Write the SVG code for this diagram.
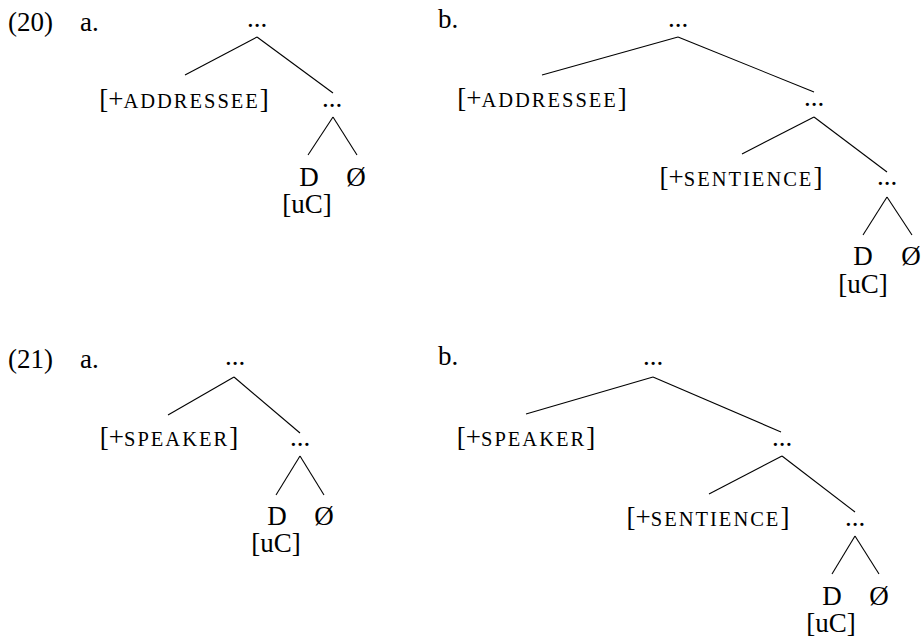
<svg xmlns="http://www.w3.org/2000/svg" width="922" height="638" viewBox="0 0 922 638">
<style>
text{font-family:"Liberation Serif","Times New Roman",serif;font-size:27px;fill:#000}
.m{text-anchor:middle}
.sc{font-size:20.5px;letter-spacing:2px}
#connectors line{stroke:#000;stroke-width:1.1}
</style>
<rect width="922" height="638" fill="#fff"/>
<g id="labels">
<text x="8" y="31">(20)</text>
<text x="80" y="31">a.</text>
<text x="438" y="28">b.</text>
<text x="8" y="368">(21)</text>
<text x="80" y="368">a.</text>
<text x="438" y="365">b.</text>
</g>
<g id="connectors">
<line x1="257" y1="37" x2="185" y2="75"/>
<line x1="257" y1="37" x2="333" y2="93"/>
<line x1="333" y1="117" x2="308" y2="155"/>
<line x1="333" y1="117" x2="357" y2="155"/>
<line x1="678" y1="37" x2="542" y2="75"/>
<line x1="678" y1="37" x2="814" y2="92"/>
<line x1="814" y1="117" x2="742" y2="154"/>
<line x1="814" y1="117" x2="887" y2="172"/>
<line x1="887" y1="197" x2="863" y2="235"/>
<line x1="887" y1="197" x2="912" y2="235"/>
<line x1="234" y1="377" x2="168" y2="415"/>
<line x1="234" y1="377" x2="300" y2="433"/>
<line x1="300" y1="456" x2="276" y2="495"/>
<line x1="300" y1="456" x2="324" y2="495"/>
<line x1="653" y1="377" x2="526" y2="414"/>
<line x1="653" y1="377" x2="781" y2="432"/>
<line x1="782" y1="456" x2="709" y2="494"/>
<line x1="782" y1="456" x2="855" y2="512"/>
<line x1="855" y1="536" x2="832" y2="574"/>
<line x1="855" y1="536" x2="879" y2="574"/>
</g>
<g id="t20a-root"><text class="m" x="257" y="27">...</text></g>
<g id="t20a-addressee"><text class="m" x="184" y="108">[+<tspan class="sc">ADDRESSEE</tspan>]</text></g>
<g id="t20a-mid"><text class="m" x="332" y="107">...</text></g>
<g id="t20a-D"><text class="m" x="309" y="186">D</text></g>
<g id="t20a-null"><text class="m" x="356" y="186">Ø</text></g>
<g id="t20a-uC"><text class="m" x="307" y="213">[uC]</text></g>

<g id="t20b-root"><text class="m" x="678" y="27">...</text></g>
<g id="t20b-addressee"><text class="m" x="542" y="107">[+<tspan class="sc">ADDRESSEE</tspan>]</text></g>
<g id="t20b-mid"><text class="m" x="814" y="106">...</text></g>
<g id="t20b-sentience"><text class="m" x="741" y="186">[+<tspan class="sc">SENTIENCE</tspan>]</text></g>
<g id="t20b-low"><text class="m" x="887" y="185">...</text></g>
<g id="t20b-D"><text class="m" x="863" y="265">D</text></g>
<g id="t20b-null"><text class="m" x="911" y="265">Ø</text></g>
<g id="t20b-uC"><text class="m" x="863" y="293">[uC]</text></g>

<g id="t21a-root"><text class="m" x="235" y="365">...</text></g>
<g id="t21a-speaker"><text class="m" x="169" y="446">[+<tspan class="sc">SPEAKER</tspan>]</text></g>
<g id="t21a-mid"><text class="m" x="300" y="446">...</text></g>
<g id="t21a-D"><text class="m" x="277" y="525">D</text></g>
<g id="t21a-null"><text class="m" x="324" y="525">Ø</text></g>
<g id="t21a-uC"><text class="m" x="276" y="552">[uC]</text></g>

<g id="t21b-root"><text class="m" x="653" y="365">...</text></g>
<g id="t21b-speaker"><text class="m" x="526" y="446">[+<tspan class="sc">SPEAKER</tspan>]</text></g>
<g id="t21b-mid"><text class="m" x="782" y="446">...</text></g>
<g id="t21b-sentience"><text class="m" x="708" y="526">[+<tspan class="sc">SENTIENCE</tspan>]</text></g>
<g id="t21b-low"><text class="m" x="855" y="526">...</text></g>
<g id="t21b-D"><text class="m" x="832" y="605">D</text></g>
<g id="t21b-null"><text class="m" x="879" y="605">Ø</text></g>
<g id="t21b-uC"><text class="m" x="831" y="632">[uC]</text></g>
</svg>
